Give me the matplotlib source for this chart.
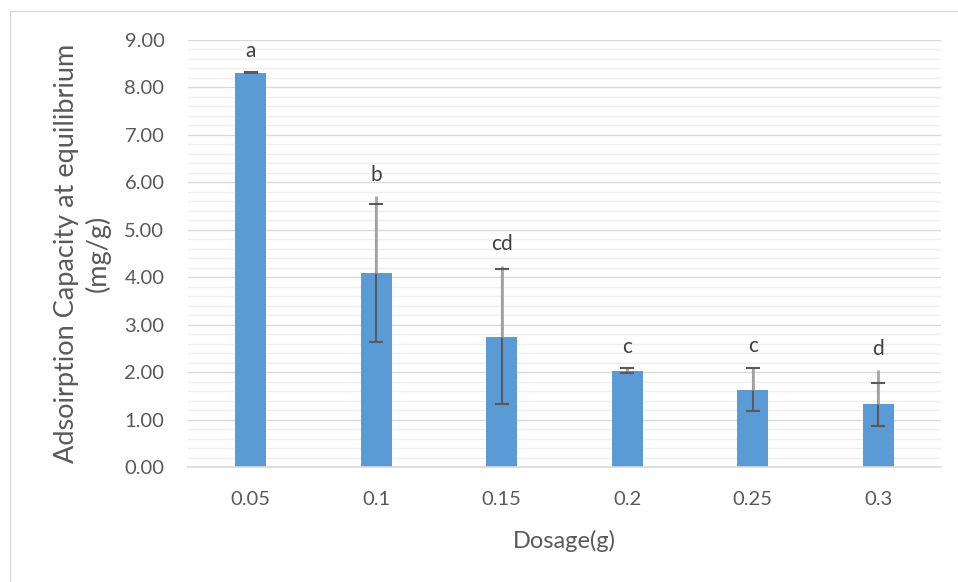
import numpy as np
import matplotlib.pyplot as plt
from matplotlib.patches import Rectangle
from matplotlib.ticker import MultipleLocator

plt.rcParams['font.family'] = ['Lato', 'DejaVu Sans']

dosage = ['0.05', '0.1', '0.15', '0.2', '0.25', '0.3']
q_e = [8.31, 4.09, 2.75, 2.03, 1.63, 1.32]
q_sd = [0.01, 1.45, 1.42, 0.05, 0.46, 0.46]
whisker_top = [8.32, 5.71, 4.24, 2.08, 2.10, 2.04]
groups = ['a', 'b', 'cd', 'c', 'c', 'd']

txt = '#595959'
fig = plt.figure(figsize=(9.58, 5.82), dpi=100)
# chart frame
fig.patches.append(Rectangle((10 / 958, -0.1), 1.2, (582 - 11) / 582 + 0.1,
                             transform=fig.transFigure, fill=False,
                             edgecolor='#d9d9d9', linewidth=1))
ax = fig.add_axes([188 / 958, 115 / 582, 753 / 958, 427 / 582])

x = np.arange(len(dosage))
ax.bar(x, q_e, width=0.25, color='#5b9bd5', zorder=2)

# extended upper whiskers, then the capped error bars
ax.vlines(x, q_e, whisker_top, color='#a6a6a6', linewidth=2, zorder=3)
eb = ax.errorbar(x, q_e, yerr=q_sd, fmt='none', ecolor='#595959',
                 elinewidth=1.5, capsize=5, capthick=1.5, zorder=3)
for line in eb[2]:
    line.set_zorder(2.5)
for cap in eb[1]:
    cap.set_zorder(4)

for xi, top, g in zip(x, whisker_top, groups):
    ax.text(xi, top + 0.45, g, ha='center', va='center', fontsize=15, color='#404040')

ax.set_xlim(-0.5, 5.5)
ax.set_ylim(0, 9)
ax.set_xticks(x)
ax.set_xticklabels(dosage)
ax.yaxis.set_major_locator(MultipleLocator(1))
ax.yaxis.set_minor_locator(MultipleLocator(0.2))
ax.yaxis.set_major_formatter(lambda v, p: '%.2f' % v)
ax.grid(axis='y', which='major', color='#d9d9d9', linewidth=1, zorder=0)
ax.grid(axis='y', which='minor', color='#efefef', linewidth=1, zorder=0)
ax.set_axisbelow(True)

for s in ['top', 'right', 'left']:
    ax.spines[s].set_visible(False)
ax.spines['bottom'].set_color('#d9d9d9')
ax.spines['bottom'].set_linewidth(1.2)

ax.tick_params(axis='y', which='both', length=0, pad=17, labelsize=14.5, labelcolor=txt)
ax.tick_params(axis='x', length=0, pad=17, labelsize=14.5, labelcolor=txt)

ax.set_xlabel('Dosage(g)', fontsize=17, color=txt, labelpad=16)
ax.set_ylabel('Adsoirption Capacity at equilibrium\n(mg/g)', fontsize=19.5,
              color=txt, labelpad=10, linespacing=1.25)

fig.savefig('out.png', dpi=100)
